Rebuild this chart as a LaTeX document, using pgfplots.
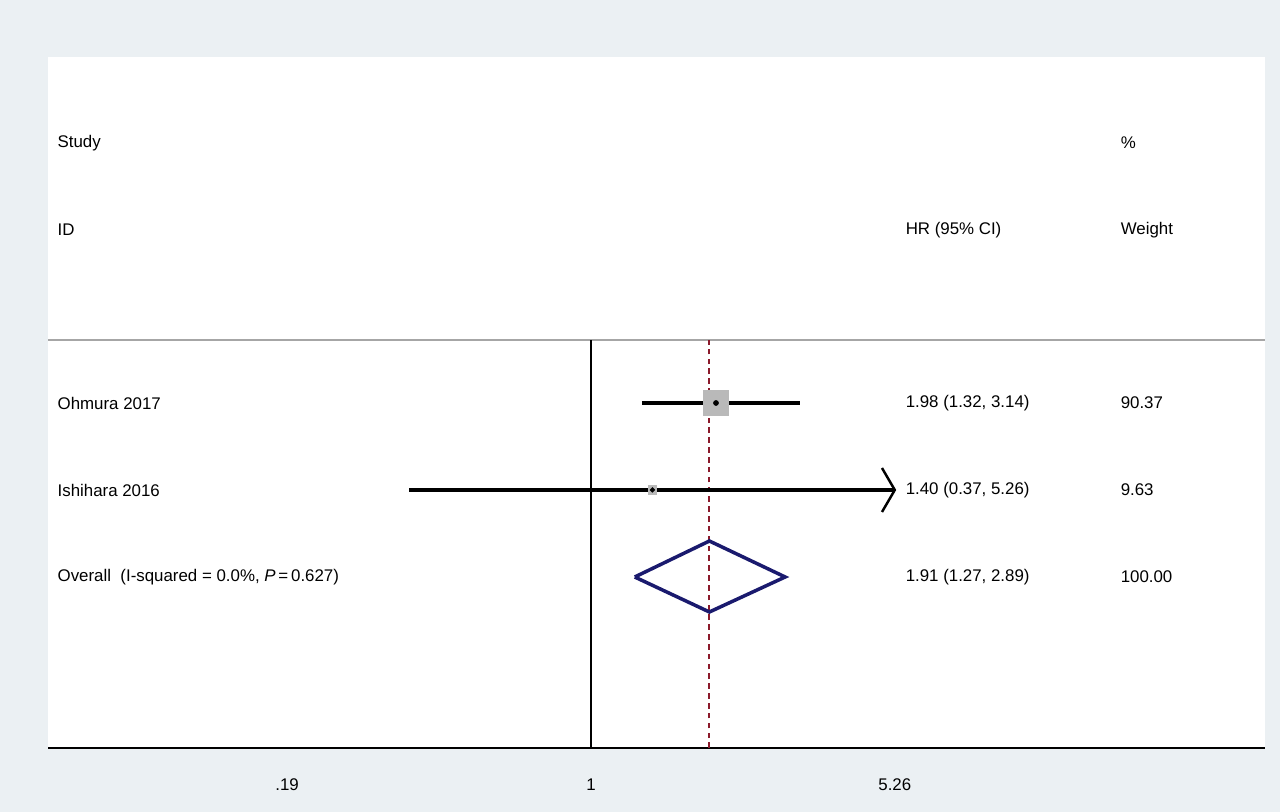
\documentclass[border=0pt]{standalone}
\usepackage{pgfplots}
\pgfplotsset{compat=1.18}
\usepackage{fontspec}
\setmainfont{Liberation Sans}
\definecolor{bg}{HTML}{EBF0F3}
\definecolor{navy}{HTML}{1A1A6E}
\definecolor{dred}{HTML}{8B1A2B}
\begin{document}
\begin{tikzpicture}
\fill[bg] (0,0) rectangle (128mm,81.2mm);
\begin{axis}[at={(4.8mm,6.4mm)},anchor=south west,scale only axis,
 width=121.7mm,height=69.1mm,xmin=-2.967,xmax=3.683,ymin=0,ymax=691,
 axis x line=bottom, axis y line=none, axis line style={-,line width=0.6pt},
 axis background/.style={fill=white},
 xtick={-1.6607,0,1.6601},xticklabels={.19,1,5.26},
 major tick length=0pt,
 ticklabel style={font=\fontsize{4.8}{5.8}\selectfont},
 xticklabel style={yshift=-1.8mm},
 clip=false]
\draw[gray!70,line width=0.4pt] (axis cs:-2.967,408) -- (axis cs:3.683,408);
\addplot[black,line width=0.7pt] coordinates {(0,0)(0,408)};
\addplot[dred,line width=0.6pt,dash pattern=on 1.6pt off 1.2pt] coordinates {(0.647,0)(0.647,408)};
% Ohmura
\addplot[black,line width=0.9pt] coordinates {(0.278,345)(1.144,345)};
\addplot[only marks,mark=square*,mark size=3.6pt,draw=gray!55,fill=gray!55] coordinates {(0.683,345)};
\addplot[only marks,mark=*,mark size=0.6pt,black] coordinates {(0.683,345)};
% Ishihara
\addplot[black,line width=0.9pt] coordinates {(-0.994,258)(1.66,258)};
\addplot[black,line width=0.7pt] coordinates {(1.590,280)(1.66,258)(1.590,236)};
\addplot[only marks,mark=square*,mark size=1.2pt,draw=gray!55,fill=gray!55] coordinates {(0.336,258)};
\addplot[only marks,mark=*,mark size=0.5pt,black] coordinates {(0.336,258)};
% Overall
\addplot[navy,line width=1.0pt] coordinates {(0.239,171)(0.647,207)(1.061,171)(0.647,136)(0.239,171)};
\begin{scope}[every node/.style={anchor=west,inner sep=0pt,font=\fontsize{4.8}{5.8}\selectfont}]
\node at (axis cs:-2.918,605) {Study};
\node at (axis cs:-2.918,518) {ID};
\node at (axis cs:1.716,518) {HR (95\% CI)};
\node at (axis cs:2.891,605) {\%};
\node at (axis cs:2.891,518) {Weight};
\node at (axis cs:-2.918,345) {Ohmura 2017};
\node at (axis cs:1.716,345) {1.98 (1.32, 3.14)};
\node at (axis cs:2.891,345) {90.37};
\node at (axis cs:-2.918,258) {Ishihara 2016};
\node at (axis cs:1.716,258) {1.40 (0.37, 5.26)};
\node at (axis cs:2.891,258) {9.63};
\node at (axis cs:-2.918,171) {Overall\ \ (I-squared = 0.0\%, \textit{P}\,=\,0.627)};
\node at (axis cs:1.716,171) {1.91 (1.27, 2.89)};
\node at (axis cs:2.891,171) {100.00};
\end{scope}
\end{axis}
\end{tikzpicture}
\end{document}
